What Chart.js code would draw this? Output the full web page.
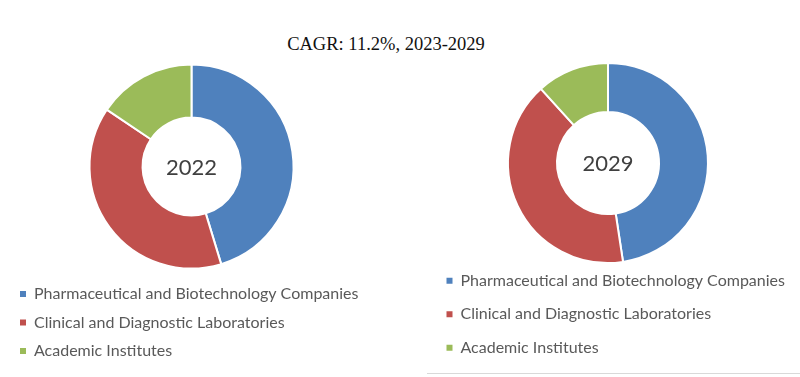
<!DOCTYPE html>
<html>
<head>
<meta charset="utf-8">
<script src="https://cdn.jsdelivr.net/npm/chart.js@4.4.1/dist/chart.umd.min.js"></script>
<style>
    html, body { margin: 0; padding: 0; background: #fff; }
    #wrap { position: relative; width: 800px; height: 377px; overflow: hidden; }
    #title {
        position: absolute; left: 0; top: 33px; width: 772px;
        text-align: center; font-family: "Liberation Serif", serif;
        font-size: 18.5px; line-height: 22px; color: #111;
    }
    #c2022 { position: absolute; left: 0; top: 0; }
    #c2029 { position: absolute; left: 420px; top: 0; }
    #rule { position: absolute; left: 427px; top: 373px; width: 373px; height: 1px; background: #d9d9d9; }
</style>
</head>
<body>
<div id="wrap">
    <div id="title">CAGR: 11.2%, 2023-2029</div>
    <canvas id="c2022" width="380" height="377"></canvas>
    <canvas id="c2029" width="380" height="377"></canvas>
    <div id="rule"></div>
</div>
<script>
// Données (parts en %)
const categories = ['Pharmaceutical and Biotechnology Companies', 'Clinical and Diagnostic Laboratories', 'Academic Institutes'];
const share2022 = [45.3, 39.1, 15.6];
const share2029 = [47.6, 40.7, 11.7];
const colors = ['#4F81BD', '#C0504D', '#9BBB59'];

// Texte au centre du donut
const centerLabel = {
    id: 'centerLabel',
    afterDatasetsDraw(chart, args, opts) {
        const arc = chart.getDatasetMeta(0).data[0];
        if (!arc) return;
        const ctx = chart.ctx;
        ctx.save();
        ctx.font = '22px Lato';
        ctx.fillStyle = '#404040';
        ctx.textAlign = 'center';
        ctx.textBaseline = 'middle';
        ctx.fillText(opts.text, arc.x, arc.y + 1);
        ctx.restore();
    }
};

// carrés de légende pleins (sans la bordure blanche des arcs)
const baseLabels = Chart.overrides.doughnut.plugins.legend.labels.generateLabels;
const flatLabels = chart => baseLabels(chart).map(l => ({ ...l, lineWidth: 0 }));

function makeDonut(id, values, year, cfg) {
    return new Chart(document.getElementById(id), {
        type: 'doughnut',
        data: {
            labels: categories,
            datasets: [{
                data: values,
                backgroundColor: colors,
                borderColor: '#ffffff',
                borderWidth: 2,
                clip: false
            }]
        },
        options: {
            responsive: false,
            animation: false,
            radius: cfg.radius,
            cutout: cfg.cutout,
            layout: { padding: cfg.padding },
            plugins: {
                legend: {
                    position: 'bottom',
                    align: 'start',
                    labels: {
                        boxWidth: 6,
                        boxHeight: 6,
                        padding: cfg.rowPad,
                        color: '#595959',
                        font: { family: 'Lato', size: 16 },
                        generateLabels: flatLabels
                    }
                },
                tooltip: { enabled: false },
                centerLabel: { text: year }
            }
        },
        plugins: [centerLabel]
    });
}

makeDonut('c2022', share2022, '2022', {
    radius: 102, cutout: '48%', rowPad: 12.5,
    padding: { left: 7.5, right: 4.5, top: 59.5, bottom: 8 }
});

makeDonut('c2029', share2029, '2029', {
    radius: 100, cutout: '51%', rowPad: 17.5,
    padding: { left: 9, right: 13, top: 70.8, bottom: 11.3 }
});
</script>
</body>
</html>
